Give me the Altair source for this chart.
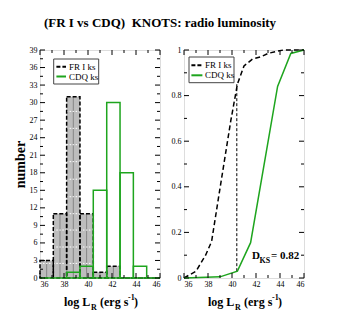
import altair as alt
import pandas as pd

# ---------------- data ----------------
edges = [36, 37.11, 38.22, 39.33, 40.44, 41.56, 42.67, 43.78, 44.89, 46]
fr_counts = [3, 11, 31, 11, 1, 2, 0, 0, 0]
cdq_counts = [0, 0, 1, 2, 15, 30, 18, 2, 0]

fr_cdf_x = [36, 37.0, 37.8, 38.3, 38.9, 39.9, 40.45, 41.0, 41.7, 42.4, 43.0, 43.8, 44.3, 46]
fr_cdf_y = [0, 0.03, 0.10, 0.16, 0.36, 0.69, 0.85, 0.93, 0.96, 0.97, 0.985, 0.995, 1.0, 1.0]
cdq_cdf_x = [36, 39.0, 40.45, 41.55, 43.8, 44.9, 46]
cdq_cdf_y = [0, 0.005, 0.03, 0.155, 0.84, 0.985, 1.0]

dks_x = 40.4
dks_lo, dks_hi = 0.03, 0.85

x_ticks = [36, 38, 40, 42, 44, 46]
x_minor = [37, 39, 41, 43, 45]
yl_ticks = [0, 3, 6, 9, 12, 15, 18, 21, 24, 27, 30, 33, 36, 39]
yl_minor = [1.5, 4.5, 7.5, 10.5, 13.5, 16.5, 19.5, 22.5, 25.5, 28.5, 31.5, 34.5, 37.5]
yr_ticks = [0, 0.2, 0.4, 0.6, 0.8, 1]
yr_minor = [0.1, 0.3, 0.5, 0.7, 0.9]
hatch_levels = [2.5, 5.3, 8.2, 11.0, 13.9, 16.9, 19.9, 22.8, 25.6, 28.5]

# ---------------- style ----------------
W, H = 120, 228
SERIF = "Liberation Serif"
GREEN = "#1ea51e"
GREY = "#bdbdbd"

xs = alt.Scale(domain=[36, 46], nice=False, zero=False)
ys_l = alt.Scale(domain=[0, 39], nice=False)
ys_r = alt.Scale(domain=[0, 1], nice=False)

lab = dict(ticks=False, domain=False, grid=False, labelFont=SERIF, labelFontSize=8,
           labelColor="black")
xaxis = alt.Axis(values=x_ticks, format="d", labelPadding=2, title=None, **lab)
ylaxis = alt.Axis(values=yl_ticks, format="d", labelPadding=3, title="number",
                  titleFont=SERIF, titleFontSize=14, titleFontWeight="bold",
                  titleColor="black", titlePadding=2, **lab)
yraxis = alt.Axis(values=yr_ticks, format="~g", labelPadding=3, title=None, **lab)

one = pd.DataFrame({"d": [0]})


def X(f):
    return alt.X(f"{f}:Q", scale=xs, axis=xaxis)


def tick_layers(ymaj, ymin, yscale, yaxis):
    out = []
    for vals, L in [(x_ticks, 5), (x_minor, 3)]:
        d = pd.DataFrame({"tx": vals})
        b = alt.Chart(d).mark_rule(color="black", strokeWidth=1)
        out.append(b.encode(x=X("tx"), y=alt.value(H), y2=alt.value(H - L)))
        out.append(b.encode(x=X("tx"), y=alt.value(0), y2=alt.value(L)))
    for vals, L in [(ymaj, 5), (ymin, 3)]:
        d = pd.DataFrame({"ty": vals})
        b = alt.Chart(d).mark_rule(color="black", strokeWidth=1)
        Y = alt.Y("ty:Q", scale=yscale, axis=yaxis)
        out.append(b.encode(y=Y, x=alt.value(0), x2=alt.value(L)))
        out.append(b.encode(y=Y, x=alt.value(W), x2=alt.value(W - L)))
    return out


def legend_layers(bx0, bx1, by0, by1, lx0, lx1, ly1, ly2, tx):
    box = alt.Chart(one).mark_rect(fill="white", stroke="#444", strokeWidth=1).encode(
        x=alt.value(bx0), x2=alt.value(bx1), y=alt.value(by0), y2=alt.value(by1))
    l1 = alt.Chart(one).mark_rule(color="black", strokeWidth=2, strokeDash=[4, 2]).encode(
        x=alt.value(lx0), x2=alt.value(lx1), y=alt.value(ly1))
    l2 = alt.Chart(one).mark_rule(color=GREEN, strokeWidth=2).encode(
        x=alt.value(lx0), x2=alt.value(lx1), y=alt.value(ly2))
    t1 = alt.Chart(one).mark_text(align="left", baseline="middle", font=SERIF, fontSize=9,
                                  color="black").encode(
        x=alt.value(tx), y=alt.value(ly1), text=alt.value("FR I ks"))
    t2 = alt.Chart(one).mark_text(align="left", baseline="middle", font=SERIF, fontSize=9,
                                  color="black").encode(
        x=alt.value(tx), y=alt.value(ly2), text=alt.value("CDQ ks"))
    return [box, l1, l2, t1, t2]


def txt(s, x, y, size, base="alphabetic"):
    return alt.Chart(one).mark_text(align="left", baseline=base, font=SERIF, fontSize=size,
                                    fontWeight="bold", color="black").encode(
        x=alt.value(x), y=alt.value(y), text=alt.value(s))


def xtitle_layers():
    x0, yb = 24, 256
    return [txt("log L", x0, yb, 12),
            txt("R", x0 + 27, yb + 4, 8),
            txt("(erg s", x0 + 36, yb, 12),
            txt("-1", x0 + 64, yb - 6, 8),
            txt(")", x0 + 70, yb, 12)]


# ---------------- left panel: histograms ----------------
hist = pd.DataFrame({"lo": edges[:-1], "hi": edges[1:], "fr": fr_counts, "cdq": cdq_counts})
hist["mid"] = (hist["lo"] + hist["hi"]) / 2
hist["zero"] = 0
fr_nz = hist[hist["fr"] > 0]

hrows = []
for _, r in fr_nz.iterrows():
    for lev in hatch_levels:
        if lev < r["fr"]:
            hrows.append({"lo": r["lo"], "hi": r["hi"], "lev": lev})
hatch = pd.DataFrame(hrows)

YL = lambda f: alt.Y(f"{f}:Q", scale=ys_l, axis=ylaxis)

gray = alt.Chart(fr_nz).mark_rect(fill=GREY, strokeWidth=0).encode(
    x=X("lo"), x2="hi", y=YL("fr"), y2="zero")
centers = alt.Chart(fr_nz).mark_rule(color="#858585", strokeWidth=1).encode(
    x=X("mid"), y=YL("fr"), y2="zero")
dots = alt.Chart(hatch).mark_rule(color="white", strokeWidth=1, strokeDash=[1.5, 1.5]).encode(
    x=X("lo"), x2="hi", y=YL("lev"))
fr_out = alt.Chart(hist).mark_rect(fill="transparent", stroke="black", strokeWidth=1.5,
                                   strokeDash=[4, 2]).encode(
    x=X("lo"), x2="hi", y=YL("fr"), y2="zero")
cdq_out = alt.Chart(hist).mark_rect(fill="transparent", stroke=GREEN, strokeWidth=1.5).encode(
    x=X("lo"), x2="hi", y=YL("cdq"), y2="zero")

left = alt.layer(
    gray, centers, dots, fr_out, cdq_out,
    *legend_layers(13.7, 58.7, 9, 34, 16.4, 26, 16.7, 26.5, 29),
    *tick_layers(yl_ticks, yl_minor, ys_l, ylaxis),
    *xtitle_layers(),
).properties(width=W, height=H)

# ---------------- right panel: cumulative distributions ----------------
YR = lambda f: alt.Y(f"{f}:Q", scale=ys_r, axis=yraxis)
frc = pd.DataFrame({"cx": fr_cdf_x, "cy": fr_cdf_y})
cqc = pd.DataFrame({"cx": cdq_cdf_x, "cy": cdq_cdf_y})
dks = pd.DataFrame({"dx": [dks_x], "dlo": [dks_lo], "dhi": [dks_hi]})

fr_line = alt.Chart(frc).mark_line(color="black", strokeWidth=1.5, strokeDash=[5, 3]).encode(
    x=X("cx"), y=YR("cy"))
cq_line = alt.Chart(cqc).mark_line(color=GREEN, strokeWidth=1.5).encode(
    x=X("cx"), y=YR("cy"))
dks_rule = alt.Chart(dks).mark_rule(color="black", strokeWidth=1, strokeDash=[3, 2]).encode(
    x=X("dx"), y=YR("dlo"), y2="dhi")

right = alt.layer(
    dks_rule, fr_line, cq_line,
    *legend_layers(5, 50, 7, 32.7, 7.4, 18.4, 15.3, 25.3, 21),
    *tick_layers(yr_ticks, yr_minor, ys_r, yraxis),
    *xtitle_layers(),
    txt("D", 68, 209, 11),
    txt("KS", 75.5, 212.5, 8),
    txt("= 0.82", 87, 209, 11),
).properties(width=W, height=H)

chart = alt.hconcat(left, right, spacing=24, bounds="flush").properties(
    title=alt.TitleParams("(FR I vs CDQ)\u00a0 KNOTS: radio luminosity", font=SERIF,
                          fontSize=13, fontWeight="bold", color="black", anchor="middle",
                          offset=16),
    padding={"left": 4, "top": 8, "right": 4, "bottom": 4},
).configure_view(stroke="black", strokeWidth=1).configure(background="white")

chart.save("out.html", embed_options={"renderer": "svg", "actions": False})
